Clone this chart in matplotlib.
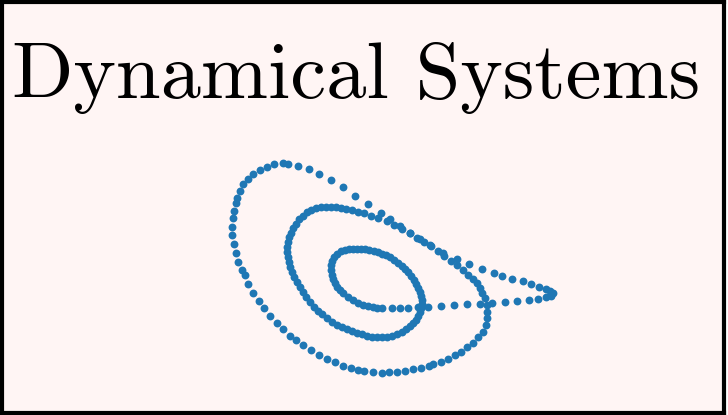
import numpy as np
import matplotlib
matplotlib.use("Agg")
import matplotlib.pyplot as plt

# points (x right, y down, in picture pixels)
# fast return from the fold tip back to the centre
return_chain = [
    (553, 293), (551, 296), (546, 297), (538, 299), (529, 300), (517, 301),
    (505, 302), (492, 303), (480, 304), (467, 304), (454, 305), (441, 306),
    (428, 307), (418, 307), (408, 308), (400, 308), (392, 308),
]

# slow inner spiral
inner_spiral = [
    (382, 308), (377, 308), (373, 307), (368, 306), (363, 305), (358, 303),
    (353, 300), (348, 297), (343, 293), (340, 290), (337, 287), (335, 283),
    (333, 279), (332, 275), (331, 270), (331, 265), (332, 261), (334, 257),
    (337, 254), (341, 251), (345, 250), (349, 249), (353, 249), (357, 249),
    (361, 249), (365, 249), (369, 250), (374, 251), (378, 252), (382, 254),
    (386, 255), (390, 257), (394, 260), (398, 263), (402, 266), (405, 269),
    (408, 272), (411, 276), (414, 280), (416, 284), (418, 288), (420, 292),
    (421, 296), (422, 300), (422, 304), (421, 308), (420, 312), (418, 316),
    (416, 320), (413, 323), (410, 326), (406, 329), (402, 332), (397, 334),
    (392, 336), (387, 337), (382, 337), (377, 337), (372, 337), (367, 336),
    (362, 334), (357, 333), (352, 331), (347, 329), (342, 327), (337, 325),
    (332, 322), (327, 318), (322, 314), (318, 311), (314, 307), (310, 302),
    (306, 297), (303, 292), (300, 287), (297, 282), (294, 277), (292, 272),
    (290, 267), (289, 262), (288, 257), (287, 252), (287, 247), (288, 242),
    (289, 237), (291, 233), (293, 228), (296, 224), (299, 219), (303, 216),
    (307, 212), (311, 210), (316, 208), (321, 207), (326, 207), (331, 207),
    (336, 207), (341, 208), (346, 209), (352, 210), (358, 212), (364, 213),
    (371, 216), (378, 218),
]

# middle ring running into the big outer loop
outer_loop = [
    (387, 221), (394, 225), (402, 229), (410, 233), (417, 238), (424, 242),
    (431, 246), (438, 251), (444, 256), (451, 261), (457, 265), (463, 270),
    (468, 275), (473, 279), (477, 283), (480, 288), (482, 293), (485, 298),
    (487, 305), (487, 312), (487, 318), (486, 325), (483, 332), (478, 337),
    (473, 343), (467, 347), (461, 352), (455, 355), (448, 359), (441, 362),
    (433, 364), (429, 366), (421, 368), (413, 369), (405, 371), (397, 372),
    (389, 372), (382, 373), (373, 372), (364, 371), (358, 370), (351, 368),
    (343, 366), (335, 362), (327, 359), (319, 355), (311, 350), (303, 345),
    (296, 340), (290, 336), (283, 329), (277, 323), (270, 316), (264, 308),
    (259, 301), (253, 293), (248, 284), (245, 275), (242, 270), (238, 262),
    (236, 253), (234, 244), (232, 235), (232, 227), (233, 218), (234, 211),
    (236, 203), (237, 198), (240, 191), (243, 184), (248, 179), (253, 174),
    (260, 170), (267, 167), (274, 164), (283, 163), (288, 164), (298, 166),
    (309, 169), (319, 174), (331, 180),
]

# top of the outer loop sliding down to the fold tip
to_tip = [
    (343, 187), (355, 196), (368, 204), (381, 213), (390, 219), (400, 226),
    (410, 233), (420, 239), (430, 245), (443, 253), (457, 259), (469, 264),
    (482, 269), (494, 273), (502, 276), (512, 279), (523, 281), (531, 284),
    (539, 287), (546, 289), (550, 291),
]

title = "Dynamical Systems"

W, H = 728, 415
fig = plt.figure(figsize=(W / 100, H / 100), dpi=100, facecolor="white")
ax = fig.add_axes([2 / W, 2 / H, (W - 6) / W, (H - 4) / H])
ax.set_facecolor("#fff5f4")
ax.set_xlim(2, W - 4)
ax.set_ylim(H - 2, 2)
ax.set_xticks([])
ax.set_yticks([])
for sp in ax.spines.values():
    sp.set_linewidth(3)
    sp.set_color("black")

pts = np.array(return_chain + inner_spiral + outer_loop + to_tip)
ax.scatter(pts[:, 0], pts[:, 1], s=32, color="#1f77b4", linewidths=0, zorder=3)

ax.text(356, 98, title, ha="center", va="baseline",
        fontsize=58, family="cmr10", color="black")

fig.savefig("out.png", dpi=100, facecolor=fig.get_facecolor())
